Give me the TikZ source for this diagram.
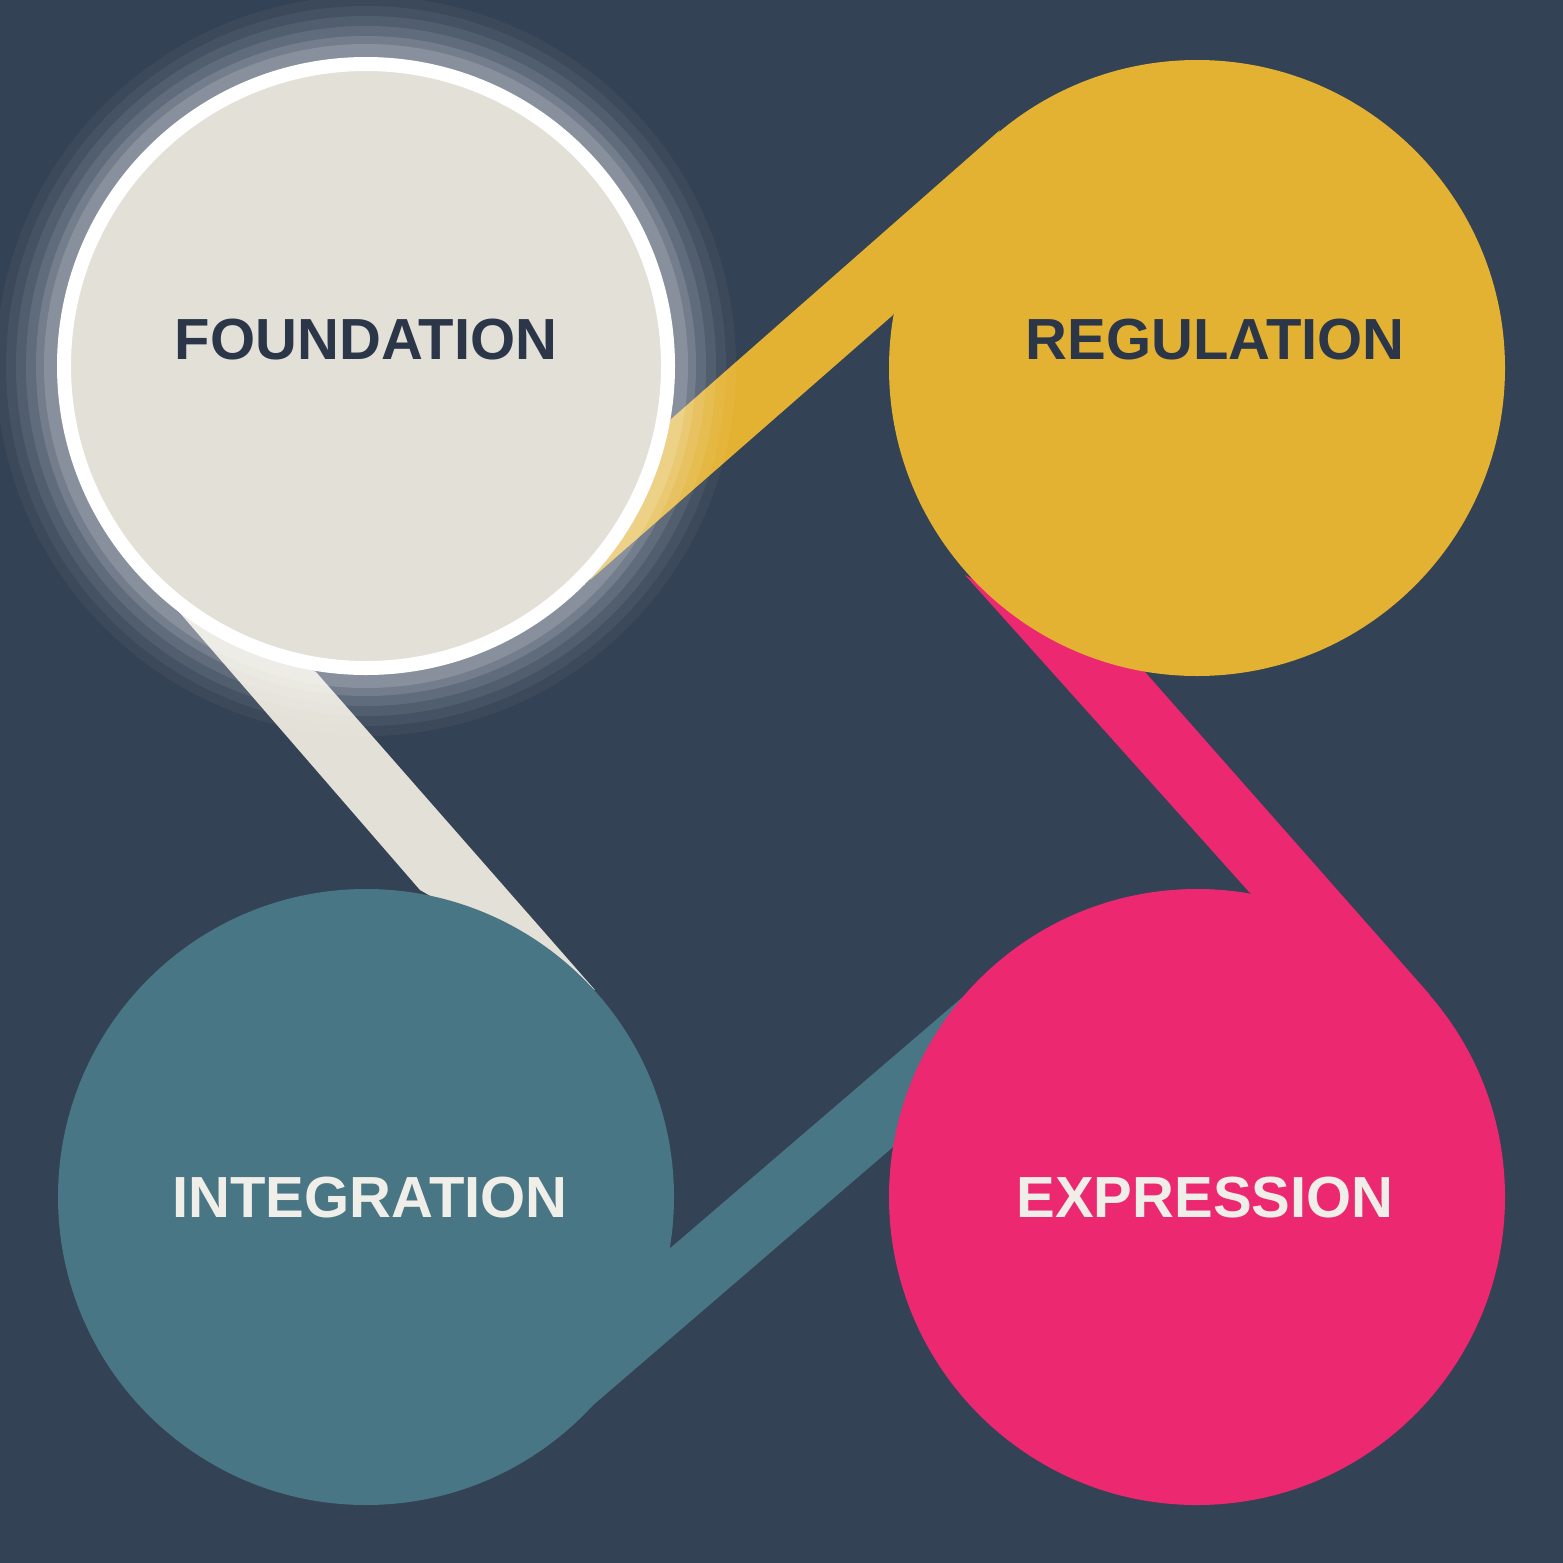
\documentclass[tikz,border=0pt]{standalone}
\usepackage{fontspec}
\setmainfont{Liberation Sans}
\definecolor{bg}{HTML}{334255}
\definecolor{beige}{HTML}{E3E0D8}
\definecolor{gold}{HTML}{E3B232}
\definecolor{pink}{HTML}{EC2870}
\definecolor{teal}{HTML}{487684}
\definecolor{darktxt}{HTML}{2B3648}
\definecolor{lighttxt}{HTML}{F0EEE8}
\begin{document}
\begin{tikzpicture}[x=1pt,y=-1pt,
  disc/.style={circle,minimum size=616pt,inner sep=0pt},
  lbl/.style={font=\fontsize{58}{58}\selectfont\bfseries}]
\fill[bg] (0,0) rectangle (1563,1563);
\useasboundingbox (0,0) rectangle (1563,1563);
% bands
\fill[beige] (160,590) -- (420,890) -- (595,990) -- (316,672) -- cycle;
\fill[gold] (1000,130) -- (670,420) -- (590,580) -- (893,315) -- cycle;
\fill[pink] (965,575) -- (1250,893) -- (1430,995) -- (1145,672) -- cycle;
\fill[teal] (1000,965) -- (668,1250) -- (570,1425) -- (893,1147) -- cycle;
% glow
\foreach \r/\o in {370/0.04,360/0.05,350/0.07,340/0.09,330/0.12,322/0.15}
  \fill[white,opacity=\o] (366,366) circle (\r);
\node[disc,fill=beige,draw=white,line width=14pt,minimum size=604pt] (found) at (366,366) {};
\node[disc,fill=gold] (reg) at (1197,368) {};
\node[disc,fill=teal] (integ) at (366,1197) {};
\node[disc,fill=pink] (expr) at (1197,1197) {};
\node[lbl,text=darktxt] (tf) at (366,340) {FOUNDATION};
\node[lbl,text=darktxt] (tr) at (1215,340) {REGULATION};
\node[lbl,text=lighttxt] (ti) at (370,1198) {INTEGRATION};
\node[lbl,text=lighttxt] (te) at (1205,1198) {EXPRESSION};
\end{tikzpicture}
\end{document}
